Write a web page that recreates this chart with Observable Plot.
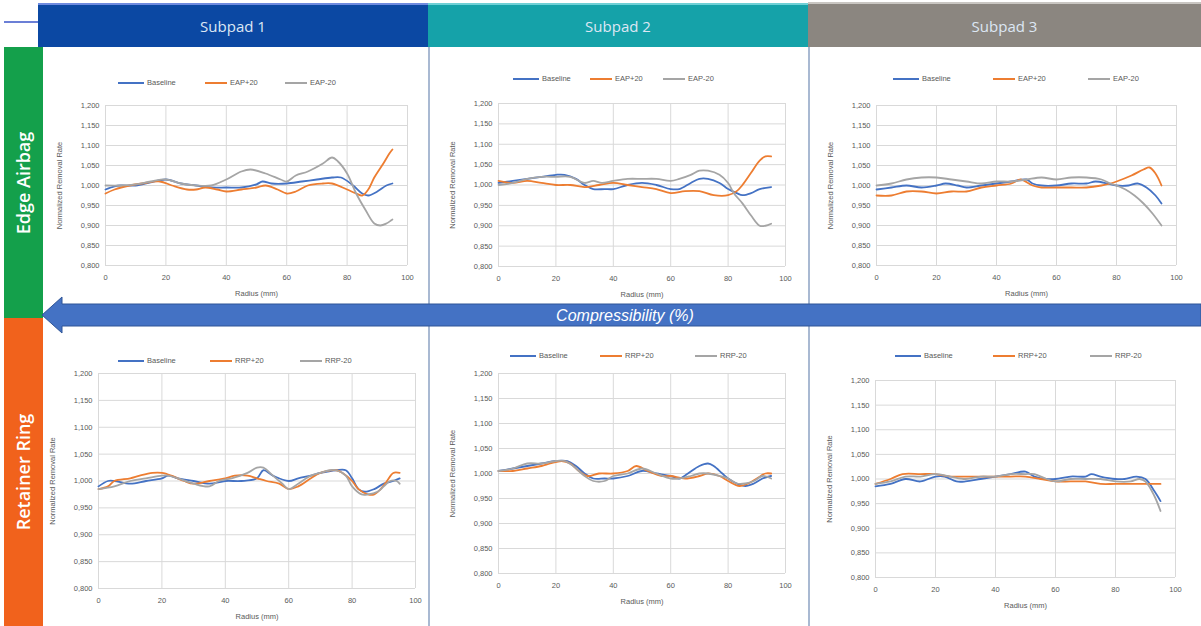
<!DOCTYPE html>
<html><head><meta charset="utf-8">
<script src="https://cdn.jsdelivr.net/npm/d3@7"></script>
<script src="https://cdn.jsdelivr.net/npm/@observablehq/plot@0.6"></script>
<style>
body{margin:0;background:#fff;}
#root{position:relative;width:1201px;height:626px;overflow:hidden;background:#fff;font-family:"Liberation Sans",Arial,sans-serif;}
.abs{position:absolute;}
.hdr{position:absolute;top:4px;height:43px;display:flex;align-items:center;justify-content:center;color:#dde7f4;font-family:"Open Sans",sans-serif;font-size:15px;}
.side{position:absolute;left:4px;width:39px;display:flex;align-items:center;justify-content:center;}
.side span{transform:rotate(-90deg);white-space:nowrap;color:#fff;font-family:"Open Sans",sans-serif;font-size:18px;font-weight:600;}
.legend{position:absolute;display:flex;font-family:"Liberation Sans",Arial,sans-serif;font-size:7.5px;color:#595959;}
.legend .it{display:flex;align-items:center;}
.legend .sw{display:inline-block;height:2px;margin-right:3px;}
svg{position:absolute;}
</style></head><body><div id="root"></div>
<script>
// ---------- labels ----------
const columns = ["Subpad 1", "Subpad 2", "Subpad 3"];
const rows = ["Edge Airbag", "Retainer Ring"];
const arrowLabel = "Compressibility (%)";
const seriesTop = ["Baseline", "EAP+20", "EAP-20"];
const seriesBottom = ["Baseline", "RRP+20", "RRP-20"];
const seriesColors = ["#4472C4", "#ED7D31", "#A5A5A5"];
const xTicks = [0, 20, 40, 60, 80, 100];
const yTicks = [0.8, 0.85, 0.9, 0.95, 1.0, 1.05, 1.1, 1.15, 1.2];
const xLabel = "Radius (mm)";
const yLabel = "Normalized Removal Rate";

// ---------- data: [radius mm, normalized removal rate] ----------
// Edge Airbag / Subpad 1
const ea1Baseline = [[0,0.99],[3,0.998],[5,1.0],[10,1.0],[15,1.008],[20,1.015],[25,1.005],[30,1.0],[35,0.995],[40,0.995],[45,0.995],[50,1.003],[52,1.01],[55,1.005],[60,1.005],[65,1.01],[70,1.015],[75,1.02],[78,1.02],[82,1.0],[85,0.98],[87,0.975],[90,0.985],[93,1.0],[95,1.005]];
const ea1Plus = [[0,0.98],[3,0.99],[8,1.0],[12,1.005],[18,1.01],[22,1.0],[27,0.99],[30,0.99],[33,0.995],[37,0.99],[40,0.985],[45,0.99],[50,0.995],[53,1.0],[57,0.99],[60,0.98],[63,0.985],[67,1.0],[72,1.005],[75,1.005],[80,0.99],[83,0.98],[85,0.975],[87,0.99],[89,1.02],[92,1.055],[94,1.08],[95,1.09]];
const ea1Minus = [[0,1.0],[5,1.0],[10,1.003],[15,1.01],[20,1.015],[25,1.005],[30,1.0],[35,1.0],[40,1.015],[45,1.035],[48,1.04],[53,1.03],[58,1.015],[60,1.01],[63,1.025],[67,1.035],[72,1.055],[75,1.07],[77,1.06],[80,1.03],[83,0.98],[86,0.94],[89,0.905],[91,0.9],[93,0.905],[95,0.915]];
// Edge Airbag / Subpad 2
const ea2Baseline = [[0,1.005],[5,1.01],[10,1.015],[15,1.02],[20,1.025],[23,1.025],[27,1.015],[30,1.0],[33,0.99],[37,0.99],[40,0.99],[45,1.0],[50,1.005],[55,1.0],[60,0.99],[63,0.99],[67,1.005],[70,1.015],[73,1.015],[77,1.005],[80,0.99],[83,0.98],[85,0.975],[88,0.98],[91,0.99],[95,0.995]];
const ea2Plus = [[0,1.01],[5,1.005],[10,1.01],[15,1.005],[20,1.0],[25,1.0],[30,0.995],[35,1.0],[40,1.005],[45,1.0],[50,0.995],[55,0.99],[60,0.98],[65,0.985],[70,0.985],[75,0.975],[80,0.975],[83,0.985],[85,1.0],[88,1.03],[91,1.06],[93,1.07],[95,1.07]];
const ea2Minus = [[0,1.0],[5,1.005],[10,1.015],[15,1.02],[20,1.02],[25,1.02],[30,1.005],[33,1.01],[36,1.005],[40,1.01],[45,1.015],[50,1.015],[55,1.015],[60,1.01],[63,1.015],[67,1.025],[70,1.035],[73,1.035],[77,1.025],[80,1.005],[82,0.98],[85,0.955],[88,0.925],[91,0.9],[93,0.9],[95,0.905]];
// Edge Airbag / Subpad 3
const ea3Baseline = [[0,0.99],[5,0.995],[10,1.0],[15,0.995],[20,1.0],[23,1.005],[27,1.0],[30,0.995],[35,1.0],[40,1.005],[45,1.01],[50,1.015],[52,1.005],[55,1.0],[60,1.0],[65,1.005],[70,1.005],[73,1.01],[77,1.005],[80,1.0],[84,1.0],[87,1.005],[90,0.995],[93,0.975],[95,0.955]];
const ea3Plus = [[0,0.975],[5,0.975],[10,0.985],[15,0.985],[20,0.98],[25,0.985],[30,0.985],[35,0.995],[40,1.0],[45,1.005],[48,1.015],[52,1.0],[55,0.995],[60,0.995],[65,0.995],[70,0.995],[75,1.0],[78,1.005],[80,1.01],[85,1.025],[89,1.04],[91,1.045],[93,1.03],[95,1.0]];
const ea3Minus = [[0,1.0],[5,1.005],[10,1.015],[15,1.02],[20,1.02],[25,1.015],[30,1.01],[35,1.005],[40,1.01],[45,1.01],[50,1.015],[55,1.02],[60,1.015],[65,1.02],[70,1.02],[75,1.015],[78,1.005],[80,1.0],[83,0.99],[86,0.975],[89,0.955],[92,0.93],[95,0.9]];
// Retainer Ring / Subpad 1
const rr1Baseline = [[0,0.99],[3,1.0],[5,1.0],[10,0.995],[15,1.0],[20,1.005],[22,1.01],[25,1.005],[30,1.0],[35,0.995],[40,1.0],[45,1.0],[50,1.005],[52,1.02],[55,1.01],[60,1.0],[63,1.005],[67,1.01],[70,1.015],[75,1.02],[78,1.02],[80,1.005],[82,0.985],[84,0.98],[87,0.985],[90,0.995],[93,1.0],[95,1.005]];
const rr1Plus = [[0,0.985],[3,0.99],[5,1.0],[10,1.005],[13,1.01],[17,1.015],[20,1.015],[23,1.01],[27,1.0],[30,0.995],[35,1.0],[40,1.005],[43,1.01],[47,1.01],[50,1.005],[53,1.0],[57,0.995],[60,0.985],[63,0.99],[67,1.005],[70,1.015],[75,1.02],[77,1.015],[80,1.0],[82,0.985],[85,0.975],[87,0.975],[89,0.985],[91,1.0],[93,1.015],[95,1.015]];
const rr1Minus = [[0,0.985],[5,0.99],[10,1.0],[15,1.005],[20,1.01],[22,1.01],[25,1.005],[30,0.995],[35,0.99],[38,1.0],[42,1.005],[47,1.015],[50,1.025],[52,1.025],[55,1.01],[58,0.995],[60,0.985],[63,0.995],[67,1.01],[70,1.015],[73,1.02],[75,1.02],[78,1.01],[80,0.99],[83,0.975],[85,0.975],[88,0.98],[90,0.99],[92,1.0],[94,1.0],[95,0.995]];
// Retainer Ring / Subpad 2
const rr2Baseline = [[0,1.005],[5,1.01],[10,1.015],[15,1.02],[20,1.025],[24,1.025],[27,1.015],[30,1.0],[33,0.99],[37,0.99],[40,0.99],[45,0.995],[50,1.005],[55,1.0],[60,0.995],[63,0.99],[66,1.0],[70,1.015],[73,1.02],[75,1.015],[78,1.0],[80,0.99],[83,0.98],[86,0.975],[89,0.98],[92,0.99],[95,0.995]];
const rr2Plus = [[0,1.005],[5,1.005],[10,1.01],[15,1.015],[18,1.02],[22,1.025],[25,1.02],[28,1.005],[31,0.995],[35,1.0],[40,1.0],[45,1.005],[48,1.015],[52,1.005],[57,0.995],[60,0.995],[65,0.99],[70,0.995],[73,1.0],[77,0.995],[80,0.985],[84,0.975],[87,0.98],[90,0.99],[93,1.0],[95,1.0]];
const rr2Minus = [[0,1.005],[5,1.01],[10,1.02],[15,1.02],[20,1.025],[23,1.025],[26,1.015],[30,0.995],[33,0.985],[37,0.985],[40,0.995],[45,1.0],[50,1.01],[55,1.0],[60,0.99],[63,0.99],[67,0.995],[70,1.0],[73,1.0],[77,0.995],[80,0.99],[83,0.98],[86,0.98],[89,0.985],[92,0.995],[95,0.99]];
// Retainer Ring / Subpad 3
const rr3Baseline = [[0,0.985],[5,0.99],[10,1.0],[15,0.995],[20,1.005],[23,1.005],[27,0.995],[30,0.995],[35,1.0],[40,1.005],[45,1.01],[50,1.015],[53,1.005],[57,1.0],[60,1.0],[65,1.005],[70,1.005],[72,1.01],[75,1.005],[80,1.0],[83,1.0],[87,1.005],[90,1.0],[93,0.975],[95,0.955]];
const rr3Plus = [[0,0.99],[5,1.0],[9,1.01],[15,1.01],[20,1.01],[25,1.005],[30,1.005],[35,1.005],[40,1.005],[45,1.005],[50,1.005],[55,1.0],[60,0.995],[65,0.995],[70,0.995],[75,0.99],[80,0.99],[85,0.99],[90,0.99],[95,0.99]];
const rr3Minus = [[0,0.99],[5,0.995],[10,1.005],[15,1.005],[20,1.01],[25,1.005],[30,1.0],[35,1.005],[40,1.005],[45,1.01],[50,1.01],[53,1.01],[57,1.0],[60,0.995],[65,1.0],[70,1.0],[75,1.0],[80,0.995],[85,0.995],[88,1.0],[90,0.995],[93,0.965],[95,0.935]];

const panels = [
  {names: seriesTop, lines: [ea1Baseline, ea1Plus, ea1Minus]},
  {names: seriesTop, lines: [ea2Baseline, ea2Plus, ea2Minus]},
  {names: seriesTop, lines: [ea3Baseline, ea3Plus, ea3Minus]},
  {names: seriesBottom, lines: [rr1Baseline, rr1Plus, rr1Minus]},
  {names: seriesBottom, lines: [rr2Baseline, rr2Plus, rr2Minus]},
  {names: seriesBottom, lines: [rr3Baseline, rr3Plus, rr3Minus]}
];

// ---------- layout ----------
const cells = [
  {x:40, y:47, w:388, h:256, ml:65, mr:21, mt:58, mb:38, lx:118, ly:78, lw:[87,80,80]},
  {x:428, y:47, w:380, h:256, ml:70, mr:23, mt:56, mb:37, lx:513, ly:74, lw:[77,73,80]},
  {x:808, y:47, w:393, h:256, ml:68, mr:25, mt:58, mb:38, lx:893, ly:74, lw:[100,95,80]},
  {x:40, y:328, w:388, h:298, ml:58, mr:13, mt:45, mb:38, lx:118, ly:356, lw:[92,90,80]},
  {x:428, y:328, w:380, h:298, ml:70, mr:23, mt:45, mb:53, lx:510, ly:351, lw:[90,95,80]},
  {x:808, y:328, w:393, h:298, ml:67, mr:26, mt:52, mb:49, lx:895, ly:351, lw:[98,97,80]}
];

const root = document.getElementById("root");
function div(cls, style, html) {
  const d = document.createElement("div");
  if (cls) d.className = cls;
  Object.assign(d.style, style);
  if (html != null) d.innerHTML = html;
  root.appendChild(d);
  return d;
}

// top-left thin line
div("abs", {left:"4px", top:"21px", width:"34px", height:"2px", background:"#6b7fd6"});
// header boxes
const hdrColors = ["#0b48a3", "#15a2a9", "#8b8680"];
const hdrBounds = [[38,428],[428,808],[808,1201]];
columns.forEach((c,i) => {
  div("hdr", {left: hdrBounds[i][0]+"px", width:(hdrBounds[i][1]-hdrBounds[i][0])+"px", background: hdrColors[i]}, c);
});
div("abs", {left:"38px", top:"3px", width:"390px", height:"2px", background:"#6f8be0"});
div("abs", {left:"428px", top:"3px", width:"380px", height:"2px", background:"#6fd0d6"});
div("abs", {left:"808px", top:"2px", width:"393px", height:"2px", background:"#c9c6c2"});
// side bands
const sideColors = ["#14a04b", "#f1621c"];
const sideBounds = [[47,318],[318,626]];
rows.forEach((r,i) => {
  div("side", {top: sideBounds[i][0]+"px", height:(sideBounds[i][1]-sideBounds[i][0])+"px", background: sideColors[i]}, `<span>${r}</span>`);
});
// dividers
div("abs", {left:"428px", top:"47px", width:"1.5px", height:"579px", background:"#a9b9d2"});
div("abs", {left:"808px", top:"47px", width:"1.5px", height:"579px", background:"#a9b9d2"});

const fmt = d => d3.format(".3f")(d).replace(".", ",");

panels.forEach((p, i) => {
  const g = cells[i];
  const data = [];
  p.names.forEach((n, k) => p.lines[k].forEach(([r, v]) => data.push({series: n, radius: r, value: v})));
  const chart = Plot.plot({
    width: g.w, height: g.h,
    marginLeft: g.ml, marginRight: g.mr, marginTop: g.mt, marginBottom: g.mb,
    style: {fontFamily: "'Liberation Sans', Arial, sans-serif", fontSize: "7.5px", color: "#595959", background: "transparent", overflow: "visible"},
    x: {domain: [0, 100], ticks: xTicks, tickSize: 0, tickPadding: 9, label: xLabel, labelAnchor: "center", labelOffset: 30, labelArrow: "none"},
    y: {domain: [0.8, 1.2], ticks: yTicks, tickSize: 0, tickPadding: 6, tickFormat: fmt, label: yLabel, labelAnchor: "center", labelOffset: 49, labelArrow: "none"},
    color: {domain: p.names, range: seriesColors},
    marks: [
      Plot.gridX(xTicks, {stroke: "#d9d9d9", strokeOpacity: 1}),
      Plot.gridY(yTicks, {stroke: "#d9d9d9", strokeOpacity: 1}),
      Plot.line(data, {x: "radius", y: "value", z: "series", stroke: "series", strokeWidth: 1.8, curve: "catmull-rom"})
    ]
  });
  chart.style.left = g.x + "px";
  chart.style.top = g.y + "px";
  root.appendChild(chart);
  // legend
  const lg = div("legend", {left: g.lx + "px", top: g.ly + "px"});
  p.names.forEach((n, k) => {
    const it = document.createElement("div");
    it.className = "it";
    it.style.width = g.lw[k] + "px";
    it.innerHTML = `<span class="sw" style="width:${k===0?26:22}px;background:${seriesColors[k]}"></span><span>${n}</span>`;
    lg.appendChild(it);
  });
});

// compressibility arrow (decoration)
const ns = "http://www.w3.org/2000/svg";
const arrow = document.createElementNS(ns, "svg");
arrow.setAttribute("width", 1201); arrow.setAttribute("height", 626);
arrow.style.left = "0px"; arrow.style.top = "0px"; arrow.style.pointerEvents = "none";
arrow.innerHTML = `<polygon points="42,315 62,297 62,304 1201,304 1201,326 62,326 62,333" fill="#4472C4" stroke="#2f5597" stroke-width="1"/>
<text x="625" y="315" text-anchor="middle" dominant-baseline="central" fill="#ffffff" font-family="'Liberation Sans', Arial, sans-serif" font-style="italic" font-size="16">${arrowLabel}</text>`;
root.appendChild(arrow);
</script></body></html>
